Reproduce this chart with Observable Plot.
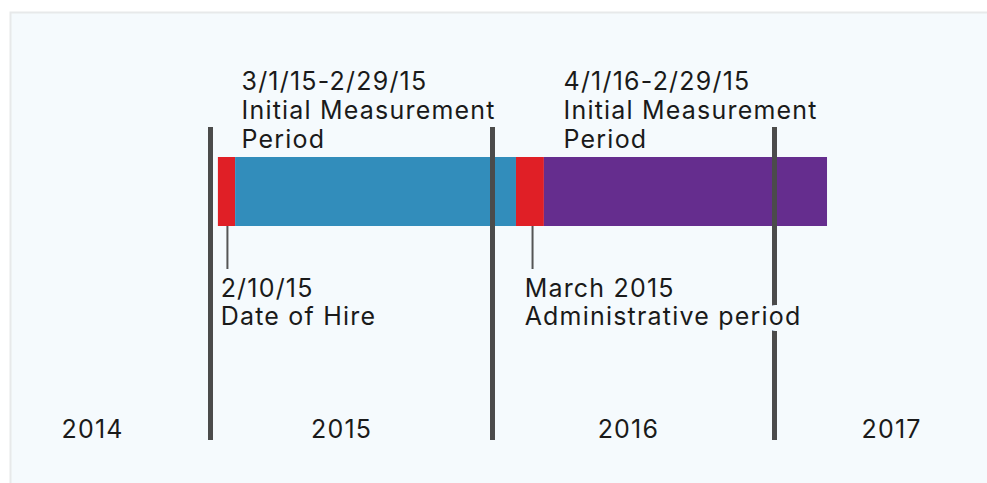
<!DOCTYPE html>
<html>
<head>
<meta charset="utf-8">
<script src="https://cdn.jsdelivr.net/npm/d3@7"></script>
<script src="https://cdn.jsdelivr.net/npm/@observablehq/plot@0.6"></script>
<style>
  html, body { margin: 0; padding: 0; background: #ffffff; }
  #chart svg { display: block; }
  #chart svg text { letter-spacing: 1.2px; }
</style>
</head>
<body>
<div id="chart"></div>
<script>
// ---------- DATA (values in decimal years) ----------
const yearLabels = ["2014", "2015", "2016", "2017"];
const yearLabelAt = [2014.582, 2015.465, 2016.482, 2017.415];
const yearBoundaries = [2015, 2016, 2017];

const segmentKind  = ["Date of hire", "Initial measurement 1", "Administrative", "Initial measurement 2"];
const segmentStart = [2015.028, 2015.089, 2016.085, 2016.184];
const segmentEnd   = [2015.089, 2016.085, 2016.184, 2017.188];
const segmentColors = ["#e01f26", "#328dbb", "#e01f26", "#652d8e"];

const periodLabels = ["3/1/15-2/29/15\nInitial Measurement\nPeriod", "4/1/16-2/29/15\nInitial Measurement\nPeriod"];
const periodLabelAt = [2015.110, 2016.252];

const eventLabels = ["2/10/15\nDate of Hire", "March 2015\nAdministrative period"];
const eventAt = [2015.060, 2016.142];
const eventLabelAt = [2015.036, 2016.114];

// ---------- LAYOUT ----------
const W = 987, H = 483;
const panelLeft = 10, panelTop = 12;
const xOf2015 = 210, pxPerYear = 282;
const L = {
  dividerTop: 127, dividerBottom: 440,
  barTop: 157, barBottom: 226,
  tickBottom: 269,
  periodBaseline: 147, eventBaseline: 324, yearBaseline: 437
};
const FONT = "Inter, 'Noto Sans', sans-serif";
const fontSize = 25;
const bg = "#f5fafd";

const segments = segmentKind.map((k, i) => ({kind: k, start: segmentStart[i], end: segmentEnd[i]}));
const periods = periodLabels.map((t, i) => ({text: t, at: periodLabelAt[i]}));
const events = eventLabels.map((t, i) => ({text: t, at: eventAt[i], labelAt: eventLabelAt[i]}));
const years = yearLabels.map((t, i) => ({text: t, at: yearLabelAt[i]}));

const chart = Plot.plot({
  width: W,
  height: H,
  marginLeft: panelLeft,
  marginTop: panelTop,
  marginRight: 0,
  marginBottom: 0,
  style: {fontFamily: FONT, background: "#ffffff", overflow: "hidden"},
  x: {
    type: "linear",
    domain: [2015 - (xOf2015 - panelLeft) / pxPerYear, 2015 + (W - xOf2015) / pxPerYear],
    axis: null
  },
  y: {type: "linear", domain: [panelTop, H], range: [panelTop, H], axis: null},
  color: {domain: segmentKind, range: segmentColors},
  marks: [
    Plot.frame({fill: bg, stroke: "#e7e9ea", strokeWidth: 2, insetRight: -4, insetBottom: -4}),
    Plot.rectX(segments, {
      x1: "start", x2: "end",
      y1: () => L.barTop, y2: () => L.barBottom,
      fill: "kind"
    }),
    Plot.ruleX(yearBoundaries, {
      x: d => d, y1: () => L.dividerTop, y2: () => L.dividerBottom,
      stroke: "#4b4b4b", strokeWidth: 5
    }),
    Plot.ruleX(events, {
      x: "at", y1: () => L.barBottom, y2: () => L.tickBottom,
      stroke: "#555555", strokeWidth: 2
    }),
    Plot.text(periods, {
      x: "at", y: () => L.periodBaseline, text: "text",
      textAnchor: "start", lineAnchor: "bottom", lineHeight: 1.16,
      fontSize, fontFamily: FONT, fill: "#1a1a1a"
    }),
    Plot.text(events, {
      x: "labelAt", y: () => L.eventBaseline, text: "text",
      textAnchor: "start", lineAnchor: "bottom", lineHeight: 1.1,
      fontSize, fontFamily: FONT, fill: "#1a1a1a",
      stroke: bg, strokeWidth: 12
    }),
    Plot.text(years, {
      x: "at", y: () => L.yearBaseline, text: "text",
      textAnchor: "middle", lineAnchor: "bottom",
      fontSize, fontFamily: FONT, fill: "#1a1a1a"
    })
  ]
});

document.getElementById("chart").appendChild(chart);
</script>
</body>
</html>
